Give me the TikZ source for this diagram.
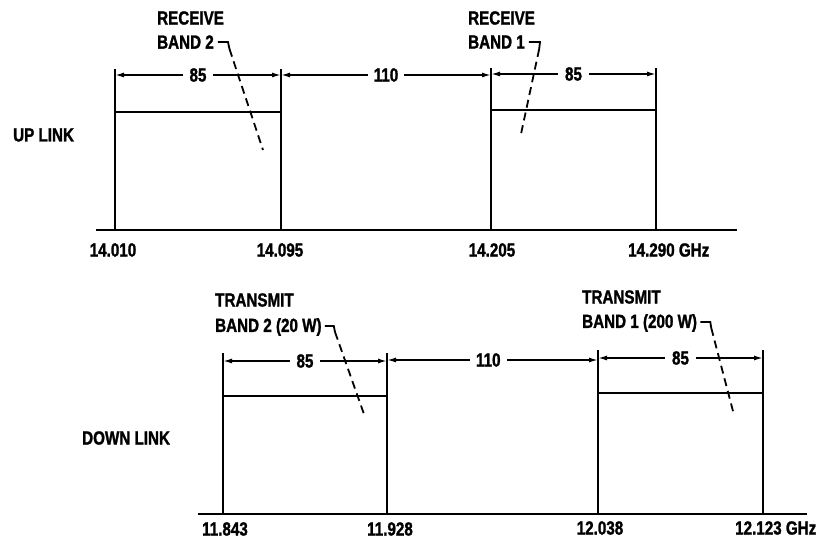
\documentclass[tikz,border=0pt]{standalone}
\usepackage{fontspec}
\setmainfont{Liberation Sans}[FakeStretch=0.8, FakeBold=1.4]
\usetikzlibrary{arrows.meta, calc, positioning}

\tikzset{
	band/.style={line width=2.8pt},
	tickline/.style={line width=2pt},
	dimline/.style={line width=1.5pt, {Latex[length=9pt,width=5pt]}-{Latex[length=9pt,width=5pt]}},
	dimlbl/.style={fill=white, inner xsep=7pt, inner ysep=1pt},
	lbl/.style={font=\fontsize{19}{21}\selectfont\bfseries, inner sep=0pt},
	leader/.style={line width=1.8pt},
	leaderdash/.style={line width=1.8pt, dash pattern=on 8pt off 5pt},
}

\begin{document}
\begin{tikzpicture}[x=1pt, y=-1pt, every node/.style={lbl}]
	\useasboundingbox (0,0) rectangle (831,545);
	% up link
	\node[anchor=west] (up) at (13,135) {UP LINK};
	\draw[band] (96,230) -- (737,230);
	\draw[band] (115,230) -- (115,112) -- (281,112) -- (281,230);
	\draw[band] (491,230) -- (491,110) -- (656,110) -- (656,230);
	\draw[tickline] (115,112) -- (115,69);
	\draw[tickline] (281,112) -- (281,69);
	\draw[tickline] (491,110) -- (491,68);
	\draw[tickline] (656,110) -- (656,68);
	\draw[dimline] (115,75) -- node[dimlbl] (ua) {85} (281,75);
	\draw[dimline] (281,75) -- node[dimlbl, inner xsep=6pt] (ub) {110} (491,75);
	\draw[dimline] (491,74) -- node[dimlbl] (uc) {85} (656,74);
	\node (f1) at (113,250) {14.010};
	\node (f2) at (280,250) {14.095};
	\node (f3) at (492,250) {14.205};
	\node[anchor=west] (f4) at (628,250) {14.290 GHz};
	% receive labels
	\node[anchor=west] (rb2a) at (157,18) {RECEIVE};
	\node[anchor=west] (rb2b) at (157,42) {BAND 2};
	\node[anchor=west] (rb1a) at (468,18) {RECEIVE};
	\node[anchor=west] (rb1b) at (468,42) {BAND 1};
	\coordinate (rb2end) at (263,150);
	\coordinate (rb1end) at (521,134);
	\draw[leader] (rb2b.east) ++(4,0) -- ++(10,0) -- ++(1.5,7) coordinate (rb2k);
	\draw[leaderdash] (rb2k) -- (rb2end);
	\draw[leader] (rb1b.east) ++(4,0) -- ++(11,0) -- ++(-0.8,7) coordinate (rb1k);
	\draw[leaderdash] (rb1k) -- (rb1end);

	% down link
	\node[anchor=west] (down) at (82,438) {DOWN LINK};
	\draw[band] (198,514) -- (807,514);
	\draw[band] (223,514) -- (223,396) -- (387,396) -- (387,514);
	\draw[band] (598,514) -- (598,393) -- (763,393) -- (763,514);
	\draw[tickline] (223,396) -- (223,353);
	\draw[tickline] (387,396) -- (387,353);
	\draw[tickline] (598,393) -- (598,350);
	\draw[tickline] (763,393) -- (763,350);
	\draw[dimline] (223,361) -- node[dimlbl] (da) {85} (387,361);
	\draw[dimline] (387,360) -- node[dimlbl, inner xsep=6pt, pos=0.48] (db) {110} (598,360);
	\draw[dimline] (598,358) -- node[dimlbl] (dc) {85} (763,358);
	\node (g1) at (225,529) {11.843};
	\node (g2) at (390,529) {11.928};
	\node (g3) at (600,528) {12.038};
	\node[anchor=west] (g4) at (735,528) {12.123 GHz};
	% transmit labels
	\node[anchor=west] (tb2a) at (215,300) {TRANSMIT};
	\node[anchor=west] (tb2b) at (215,327) {BAND 2 (20 W)};
	\node[anchor=west] (tb1a) at (582,297) {TRANSMIT};
	\node[anchor=west] (tb1b) at (582,323) {BAND 1 (200 W)};
	\coordinate (tb2end) at (365,417);
	\coordinate (tb1end) at (734,415);
	\draw[leader] (tb2b.east) ++(3,-1) -- ++(9,0) -- ++(1.2,6) coordinate (tb2k);
	\draw[leaderdash] (tb2k) -- (tb2end);
	\draw[leader] (tb1b.east) ++(3,-1) -- ++(10,0) -- ++(1,6) coordinate (tb1k);
	\draw[leaderdash] (tb1k) -- (tb1end);
\end{tikzpicture}
\end{document}
